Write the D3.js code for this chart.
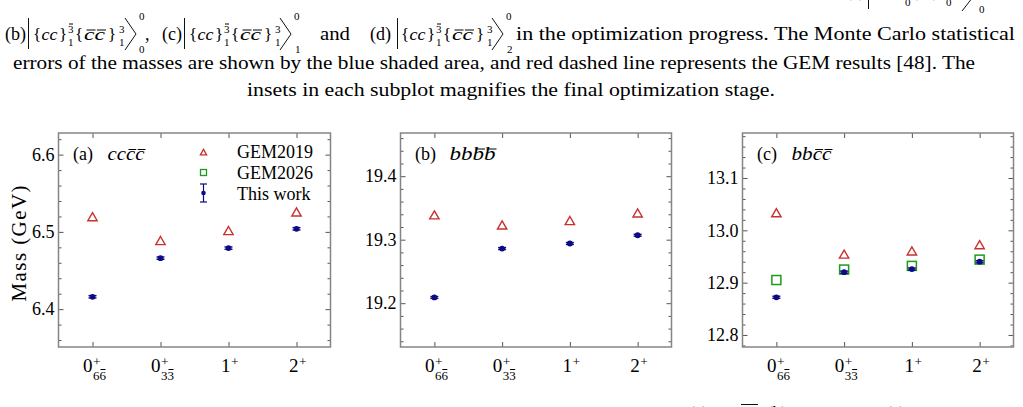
<!DOCTYPE html>
<html>
<head>
<meta charset="utf-8">
<script src="https://cdn.jsdelivr.net/npm/d3@7"></script>
<style>
  body { margin: 0; background: #fff; }
  svg { display: block; }
  text { font-family: "Liberation Serif", "Times New Roman", serif; fill: #000; }
</style>
</head>
<body>
<svg id="chart" width="1023" height="407"></svg>
<script>
// x categories: base, superscript, subscript (last subscript digit is barred)
const categories = ["0+66", "0+33", "1+", "2+"];
const tickBase = ["0", "0", "1", "2"];
const tickSup = ["+", "+", "+", "+"];
const tickSub = ["66", "33", "", ""];

// (a) cc cbar cbar
const ccccGem2019 = [6.518, 6.487, 6.500, 6.524];
const ccccWork = [6.416, 6.466, 6.479, 6.504];
const ccccErr = [0.0015, 0.0015, 0.0015, 0.0015];
const ccccTicks = [6.4, 6.5, 6.6];

// (b) bb bbar bbar
const bbbbGem2019 = [19.337, 19.321, 19.328, 19.340];
const bbbbWork = [19.209, 19.286, 19.294, 19.307];
const bbbbErr = [0.0015, 0.0015, 0.0015, 0.0015];
const bbbbTicks = [19.2, 19.3, 19.4];

// (c) bb cbar cbar
const bbccGem2019 = [13.031, 12.952, 12.958, 12.970];
const bbccGem2026 = [12.905, 12.925, 12.932, 12.944];
const bbccWork = [12.872, 12.920, 12.926, 12.940];
const bbccErr = [0.002, 0.002, 0.002, 0.002];
const bbccTicks = [12.8, 12.9, 13.0, 13.1];

const legendLabels = ["GEM2019", "GEM2026", "This work"];

const red = "#c8312f";
const green = "#1f9a1f";
const navy = "#0b0b85";
const frameColor = "#858585";
const tickColor = "#555";

const svg = d3.select("#chart");
const plotTop = 133, plotBottom = 347;

const panels = [
  { tag: "(a)", name: "cccc", nameLen: 37, barY: 149.5, x0: 58.5, x1: 330.5, domain: [6.351, 6.628], ticks: ccccTicks,
    gem2019: ccccGem2019, gem2026: null, work: ccccWork, err: ccccErr, legend: true, ylabel: true },
  { tag: "(b)", name: "bbbb", nameLen: 46, barY: 149, x0: 400.5, x1: 671.5, domain: [19.131, 19.468], ticks: bbbbTicks,
    gem2019: bbbbGem2019, gem2026: null, work: bbbbWork, err: bbbbErr },
  { tag: "(c)", name: "bbcc", nameLen: 40, barY: 149.5, x0: 742.5, x1: 1013.5, domain: [12.777, 13.186], ticks: bbccTicks,
    gem2019: bbccGem2019, gem2026: bbccGem2026, work: bbccWork, err: bbccErr },
];

// draw a bar over characters of a text node
function overbar(textSel, indices, rise, color) {
  const node = textSel.node();
  const parent = d3.select(node.parentNode);
  indices.forEach((i) => {
    const e = node.getExtentOfChar(i);
    const slant = textSel.attr("font-style") === "italic" ? 1.5 : 0;
    parent.append("line")
      .attr("x1", e.x + 1 + slant).attr("x2", e.x + e.width - 0.5 + slant)
      .attr("y1", rise).attr("y2", rise)
      .attr("stroke", color || "#000").attr("stroke-width", 1);
  });
}

panels.forEach((p) => {
  const g = svg.append("g");
  const x = d3.scalePoint().domain(categories).range([p.x0, p.x1]).padding(0.5);
  const y = d3.scaleLinear().domain(p.domain).range([plotBottom, plotTop]);

  const minor = d3.range(Math.ceil(p.domain[0] / 0.02), Math.floor(p.domain[1] / 0.02) + 1)
    .map((k) => +(k * 0.02).toFixed(2))
    .filter((v) => !p.ticks.some((t) => Math.abs(t - v) < 1e-6));

  const clean = (s) => s.call((a) => a.select(".domain").remove())
    .call((a) => a.selectAll(".tick line").attr("stroke", tickColor).attr("stroke-width", 1));

  g.append("g").attr("transform", `translate(${p.x0},0)`)
    .call(d3.axisLeft(y).tickValues(p.ticks).tickSizeInner(-5).tickSizeOuter(0).tickPadding(4)
      .tickFormat(d3.format(".1f")))
    .call(clean)
    .call((a) => a.selectAll("text").attr("font-size", 18)
      .attr("font-family", "Liberation Serif").attr("fill", "#000"));
  g.append("g").attr("transform", `translate(${p.x0},0)`)
    .call(d3.axisLeft(y).tickValues(minor).tickSizeInner(-3).tickSizeOuter(0).tickFormat(""))
    .call(clean);
  g.append("g").attr("transform", `translate(${p.x1},0)`)
    .call(d3.axisRight(y).tickValues(p.ticks).tickSizeInner(-5).tickSizeOuter(0).tickFormat(""))
    .call(clean);
  g.append("g").attr("transform", `translate(${p.x1},0)`)
    .call(d3.axisRight(y).tickValues(minor).tickSizeInner(-3).tickSizeOuter(0).tickFormat(""))
    .call(clean);
  g.append("g").attr("transform", `translate(0,${plotTop})`)
    .call(d3.axisTop(x).tickSizeInner(-5).tickSizeOuter(0).tickFormat(""))
    .call(clean);
  g.append("g").attr("transform", `translate(0,${plotBottom})`)
    .call(d3.axisBottom(x).tickSizeInner(-5).tickSizeOuter(0).tickFormat(""))
    .call(clean);

  g.append("rect")
    .attr("x", p.x0).attr("y", plotTop)
    .attr("width", p.x1 - p.x0).attr("height", plotBottom - plotTop)
    .attr("fill", "none").attr("stroke", frameColor).attr("stroke-width", 1.5);

  // x tick labels with super/subscripts, one text element each
  categories.forEach((c, i) => {
    const cx = x(c) + (tickSub[i] ? 0 : 2);
    const lab = g.append("text").attr("x", cx - 9.5).attr("y", 372).attr("font-size", 19);
    lab.append("tspan").text(tickBase[i]);
    lab.append("tspan").attr("x", cx + 0.5).attr("y", 365.5).attr("font-size", 13.5).text(tickSup[i]);
    if (tickSub[i]) {
      lab.append("tspan").attr("x", cx + 0.5).attr("y", 380).attr("font-size", 13).text(tickSub[i]);
      overbar(lab, [1 + tickSup[i].length + tickSub[i].length - 1], 369.5);
    }
  });

  // panel title
  g.append("text").attr("x", p.x0 + 14.5).attr("y", 160).attr("font-size", 18).text(p.tag);
  const t = g.append("text").attr("x", p.x0 + 49).attr("y", 160).attr("font-size", 19)
    .attr("font-style", "italic").attr("textLength", p.nameLen)
    .attr("lengthAdjust", "spacingAndGlyphs").text(p.name);
  overbar(t, [2, 3], p.barY);

  // GEM2019 triangles
  g.selectAll(".tri").data(p.gem2019).join("path")
    .attr("d", d3.symbol(d3.symbolTriangle, 38))
    .attr("transform", (d, i) => `translate(${x(categories[i])},${y(d)})`)
    .attr("fill", "none").attr("stroke", red).attr("stroke-width", 1.4);

  // GEM2026 squares
  if (p.gem2026) {
    g.selectAll(".sq").data(p.gem2026).join("rect")
      .attr("x", (d, i) => x(categories[i]) - 4.5).attr("y", (d) => y(d) - 4.5)
      .attr("width", 9).attr("height", 9)
      .attr("fill", "none").attr("stroke", green).attr("stroke-width", 1.5);
  }

  // This work with error bars
  const w = g.append("g");
  p.work.forEach((d, i) => {
    const cx = x(categories[i]);
    w.append("line").attr("x1", cx).attr("x2", cx)
      .attr("y1", y(d - p.err[i])).attr("y2", y(d + p.err[i])).attr("stroke", navy).attr("stroke-width", 1.2);
    [d - p.err[i], d + p.err[i]].forEach((v) => {
      w.append("line").attr("x1", cx - 4).attr("x2", cx + 4)
        .attr("y1", y(v)).attr("y2", y(v)).attr("stroke", navy).attr("stroke-width", 1.4);
    });
    w.append("circle").attr("cx", cx).attr("cy", y(d)).attr("r", 2.9).attr("fill", navy);
  });

  if (p.legend) {
    const lx = p.x0 + 145, tx = p.x0 + 178.5;
    g.append("path").attr("d", d3.symbol(d3.symbolTriangle, 17))
      .attr("transform", `translate(${lx},153)`)
      .attr("fill", "none").attr("stroke", red).attr("stroke-width", 1.3);
    g.append("rect").attr("x", lx - 3).attr("y", 169.5).attr("width", 6).attr("height", 6)
      .attr("fill", "none").attr("stroke", green).attr("stroke-width", 1.3);
    g.append("line").attr("x1", lx).attr("x2", lx).attr("y1", 184).attr("y2", 202)
      .attr("stroke", navy).attr("stroke-width", 1.2);
    [184, 202].forEach((yy) => g.append("line").attr("x1", lx - 3.5).attr("x2", lx + 3.5)
      .attr("y1", yy).attr("y2", yy).attr("stroke", navy).attr("stroke-width", 1.2));
    g.append("circle").attr("cx", lx).attr("cy", 193).attr("r", 2.3).attr("fill", navy);
    legendLabels.forEach((l, i) => {
      g.append("text").attr("x", tx).attr("y", 157.5 + i * 21).attr("font-size", 18).text(l);
    });
  }

  if (p.ylabel) {
    g.append("text").attr("transform", "translate(26,243.5) rotate(-90)")
      .attr("text-anchor", "middle").attr("font-size", 21).attr("textLength", 116)
      .text("Mass (GeV)");
  }
});

// ---- caption text around the figure ----
const cap = svg.append("g").attr("fill", "#111");
function put(xx, yy, s, size, opts = {}) {
  const t = cap.append("text").attr("x", xx).attr("y", yy).attr("font-size", size).text(s);
  if (opts.italic) t.attr("font-style", "italic");
  if (opts.len) t.attr("textLength", opts.len).attr("lengthAdjust", opts.adjust || "spacingAndGlyphs");
  return t;
}
function vbar(xx, y1, y2) {
  cap.append("line").attr("x1", xx).attr("x2", xx).attr("y1", y1).attr("y2", y2)
    .attr("stroke", "#111").attr("stroke-width", 1);
}
function angle(xx, y1, y2, w) {
  cap.append("path").attr("d", `M${xx},${y1}L${xx + w},${(y1 + y2) / 2}L${xx},${y2}`)
    .attr("fill", "none").attr("stroke", "#111").attr("stroke-width", 1);
}
function ketBody(xx, base) {
  put(xx, base, "{", 17);
  put(xx + 8.5, base, "cc", 17, { italic: true, len: 16 });
  put(xx + 26, base, "}", 17);
  const s1 = put(xx + 35, base - 7, "3", 11);
  overbar(s1, [0], base - 16);
  put(xx + 35, base + 6, "1", 11);
  put(xx + 42, base, "{", 17);
  const cb = put(xx + 51, base, "cc", 17, { italic: true, len: 21 });
  overbar(cb, [0, 1], base - 10);
  put(xx + 75, base, "}", 17);
  put(xx + 86, base - 7, "3", 11);
  put(xx + 86, base + 6, "1", 11);
}

// line 2
const b2 = 40;
put(5, b2, "(b)", 18);
vbar(28.5, 18, 49);
ketBody(33, b2);
angle(125, 18, 50, 11);
put(139, 20, "0", 11); put(139, 53, "0", 11);
put(145, b2, ",", 18);
put(162, b2, "(c)", 18);
vbar(184.5, 18, 49);
ketBody(189, b2);
angle(280, 18, 50, 11);
put(294, 20, "0", 11); put(295, 53, "1", 11);
put(320, b2, "and", 18, { len: 30 });
put(370, b2, "(d)", 18);
vbar(397.5, 18, 49);
ketBody(401, b2);
angle(492, 18, 50, 11);
put(506, 20, "0", 11); put(507, 53, "2", 11);
put(516, b2, "in the optimization progress. The Monte Carlo statistical", 18, { len: 499 });

// lines 3 and 4
put(13, 69, "errors of the masses are shown by the blue shaded area, and red dashed line represents the GEM results [48]. The", 18, { len: 962 });
put(247, 96, "insets in each subplot magnifies the final optimization stage.", 18, { len: 528 });

// line 1 (cut off at top edge)
put(846, -3, "(a)", 17);
vbar(868.5, -5, 9);
put(872, -3, "{cc}", 17);
put(905, 6, "0", 11);
put(912, -3, "(cc)", 17);
put(946, 6, "0", 11);
angle(962, -12, 11, 9);
put(979, 13, "0", 11);

// next caption line (cut off at bottom edge)
put(689, 417.5, "(a)", 17);
cap.append("line").attr("x1", 741).attr("x2", 758).attr("y1", 404.5).attr("y2", 404.5)
  .attr("stroke", "#111").attr("stroke-width", 1);
put(767, 417.5, "(b)", 17);
put(886, 417.5, "(c)", 17);
</script>
</body>
</html>
